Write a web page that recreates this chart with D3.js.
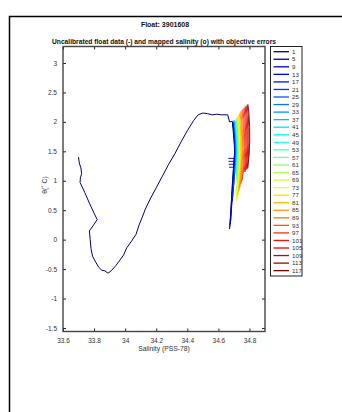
<!DOCTYPE html>
<html><head><meta charset="utf-8">
<script src="https://cdn.jsdelivr.net/npm/d3@7"></script>
<style>
html,body{margin:0;padding:0;background:#fff;overflow:hidden}
svg{display:block;font-family:"Liberation Sans",Arial,sans-serif}
</style></head><body>
<svg id="c" width="342" height="412"></svg>
<script>
const titleText = "Float: 3901608";
const subtitleText = "Uncalibrated float data (-) and mapped salinity (o) with objective errors";
const xLabelText = "Salinity (PSS-78)";
const yLabelText = "θ(˚ C)";
const xTicks = [33.6, 33.8, 34.0, 34.2, 34.4, 34.6, 34.8];
const xTickLabels = ["33.6", "33.8", "34", "34.2", "34.4", "34.6", "34.8"];
const yTicks = [-1.5, -1, -0.5, 0, 0.5, 1, 1.5, 2, 2.5, 3];
const yTickLabels = ["-1.5", "-1", "-0.5", "0", "0.5", "1", "1.5", "2", "2.5", "3"];
const profileNumbers = [1,5,9,13,17,21,25,29,33,37,41,45,49,53,57,61,65,69,73,77,81,85,89,93,97,101,105,109,113,117];

// [salinity, theta] pairs per profile
const prof1 = [[33.700,1.40],[33.705,1.30],[33.715,1.22],[33.720,1.12],[33.712,1.05],[33.710,0.97],[33.740,0.80],[33.770,0.62],[33.800,0.45],[33.820,0.34],[33.800,0.26],[33.770,0.15],[33.775,0.00],[33.780,-0.15],[33.790,-0.28],[33.810,-0.38],[33.830,-0.47],[33.850,-0.52],[33.870,-0.53],[33.890,-0.57],[33.910,-0.53],[33.940,-0.44],[33.960,-0.37],[33.990,-0.26],[34.010,-0.14],[34.040,-0.03],[34.070,0.09],[34.090,0.25],[34.110,0.38],[34.130,0.52],[34.165,0.71],[34.200,0.88],[34.240,1.08],[34.280,1.28],[34.320,1.46],[34.360,1.66],[34.400,1.85],[34.440,2.02],[34.470,2.12],[34.500,2.15],[34.530,2.14],[34.560,2.12],[34.590,2.13],[34.620,2.12],[34.660,2.12],[34.672,2.00],[34.690,2.01],[34.695,1.85],[34.700,1.70],[34.705,1.50],[34.700,1.35],[34.690,0.90],[34.680,0.45],[34.672,0.18]];
const prof5 = [[34.690,1.98],[34.700,1.85],[34.703,1.66],[34.706,1.48],[34.700,1.30],[34.690,0.95],[34.680,0.50],[34.674,0.22]];
const prof9 = [[34.693,2.00],[34.700,1.84],[34.705,1.62],[34.707,1.45],[34.702,1.25],[34.692,0.90],[34.684,0.55],[34.676,0.26]];
const prof13 = [[34.695,1.96],[34.703,1.80],[34.706,1.60],[34.709,1.42],[34.703,1.22],[34.695,0.92],[34.686,0.58],[34.680,0.32]];
const prof17 = [[34.698,1.98],[34.704,1.78],[34.708,1.58],[34.710,1.40],[34.705,1.20],[34.698,0.95],[34.690,0.65]];
const prof21 = [[34.700,2.00],[34.706,1.80],[34.709,1.60],[34.711,1.42],[34.707,1.22],[34.700,1.00],[34.692,0.72]];
const prof25 = [[34.700,2.03],[34.705,1.88],[34.710,1.70],[34.712,1.50],[34.709,1.30],[34.704,1.10],[34.698,0.90]];
const prof29 = [[34.702,2.00],[34.708,1.85],[34.712,1.68],[34.714,1.50],[34.711,1.32],[34.706,1.12]];
const prof33 = [[34.703,1.98],[34.709,1.82],[34.713,1.65],[34.716,1.48],[34.712,1.30],[34.708,1.15]];
const prof37 = [[34.706,2.02],[34.711,1.85],[34.716,1.66],[34.718,1.50],[34.714,1.35]];
const prof41 = [[34.708,1.95],[34.713,1.80],[34.718,1.62],[34.720,1.48],[34.716,1.30]];
const prof45 = [[34.710,2.00],[34.716,1.82],[34.720,1.64],[34.722,1.48],[34.718,1.32],[34.712,1.15]];
const prof49 = [[34.712,2.02],[34.718,1.84],[34.722,1.66],[34.725,1.48],[34.721,1.30],[34.715,1.10]];
const prof53 = [[34.715,2.05],[34.720,1.86],[34.725,1.66],[34.727,1.45],[34.723,1.25],[34.716,1.02]];
const prof57 = [[34.718,2.06],[34.723,1.88],[34.728,1.66],[34.730,1.45],[34.726,1.22],[34.719,0.98]];
const prof61 = [[34.720,2.05],[34.726,1.88],[34.730,1.68],[34.732,1.46],[34.728,1.22],[34.720,0.95],[34.712,0.80]];
const prof65 = [[34.722,2.08],[34.728,1.90],[34.732,1.70],[34.735,1.48],[34.731,1.22],[34.723,0.95],[34.714,0.75]];
const prof69 = [[34.724,2.10],[34.730,1.92],[34.735,1.72],[34.737,1.48],[34.733,1.22],[34.725,0.92],[34.715,0.70]];
const prof73 = [[34.727,2.10],[34.733,1.92],[34.738,1.70],[34.740,1.46],[34.736,1.20],[34.727,0.90],[34.716,0.66]];
const prof77 = [[34.730,2.12],[34.736,1.94],[34.741,1.72],[34.743,1.48],[34.739,1.22],[34.730,0.92],[34.720,0.68]];
const prof81 = [[34.735,2.14],[34.741,1.95],[34.745,1.72],[34.747,1.48],[34.743,1.22],[34.735,0.95],[34.726,0.75]];
const prof85 = [[34.740,2.16],[34.746,1.98],[34.750,1.75],[34.752,1.50],[34.748,1.25],[34.740,1.00],[34.732,0.82]];
const prof89 = [[34.745,2.18],[34.751,2.00],[34.755,1.78],[34.757,1.52],[34.753,1.28],[34.746,1.05],[34.738,0.88]];
const prof93 = [[34.752,2.20],[34.758,2.02],[34.762,1.80],[34.764,1.55],[34.760,1.30],[34.753,1.08],[34.746,0.95]];
const prof97 = [[34.758,2.22],[34.764,2.04],[34.768,1.82],[34.770,1.56],[34.766,1.32],[34.759,1.12],[34.752,1.00]];
const prof101 = [[34.765,2.24],[34.771,2.06],[34.775,1.84],[34.777,1.58],[34.773,1.35],[34.766,1.15]];
const prof105 = [[34.772,2.26],[34.778,2.08],[34.782,1.86],[34.784,1.60],[34.780,1.38],[34.772,1.15]];
const prof109 = [[34.778,2.27],[34.785,2.10],[34.789,1.88],[34.790,1.62],[34.786,1.40],[34.778,1.18]];
const prof113 = [[34.785,2.29],[34.792,2.12],[34.796,1.90],[34.797,1.65],[34.793,1.42],[34.785,1.20]];
const prof117 = [[34.790,2.30],[34.797,2.14],[34.801,1.92],[34.802,1.68],[34.798,1.45],[34.790,1.22]];
const profiles = [prof1,prof5,prof9,prof13,prof17,prof21,prof25,prof29,prof33,prof37,prof41,prof45,prof49,prof53,prof57,prof61,prof65,prof69,prof73,prof77,prof81,prof85,prof89,prof93,prof97,prof101,prof105,prof109,prof113,prof117];

// objective error bars (horizontal) for mapped salinity
const errTheta = [1.38, 1.33, 1.28, 1.23];
const errSalLo = [34.664, 34.665, 34.666, 34.668];
const errSalHi = [34.704, 34.703, 34.702, 34.700];

// ---- drawing ----
function jet(t){
  const c = v => Math.max(0, Math.min(1, v));
  const r = c(1.5 - Math.abs(4*t - 3)), g = c(1.5 - Math.abs(4*t - 2)), b = c(1.5 - Math.abs(4*t - 1));
  return d3.rgb(r*255, g*255, b*255).formatHex();
}
const color = d3.scaleOrdinal().domain(profileNumbers).range(profileNumbers.map((d,i)=>jet(i/(profileNumbers.length-1))));

const svg = d3.select("#c");
const L = 63, R = 265, T = 46.5, B = 331.5;
const x = d3.scaleLinear().domain([33.6, 34.9]).range([L, R]);
const y = d3.scaleLinear().domain([-1.56, 3.28]).range([B, T]);

// outer frame
svg.append("rect").attr("x",9.5).attr("y",16.5).attr("width",400).attr("height",500)
  .attr("fill","none").attr("stroke","#000").attr("stroke-width",1.5);

// titles
svg.append("text").attr("x",165).attr("y",26.5).attr("text-anchor","middle")
  .attr("font-size",7).attr("font-weight","bold").attr("fill","#111").text(titleText);
const st = svg.append("text").attr("x",164).attr("y",44).attr("text-anchor","middle")
  .attr("font-size",6.6).attr("font-weight","bold").attr("fill","#111").text(subtitleText);
st.attr("textLength",224).attr("lengthAdjust","spacingAndGlyphs");

// clip for plot
svg.append("clipPath").attr("id","clip").append("rect").attr("x",L).attr("y",T).attr("width",R-L).attr("height",B-T);
const plot = svg.append("g").attr("clip-path","url(#clip)");

const line = d3.line().x(d=>x(d[0])).y(d=>y(d[1]));
profiles.forEach((p,i)=>{
  plot.append("path").datum(p).attr("d",line).attr("fill","none")
    .attr("stroke",color(profileNumbers[i])).attr("stroke-width",i===0?1:0.9)
    .attr("stroke-linejoin","round");
});
errTheta.forEach((t,i)=>{
  plot.append("line").attr("x1",x(errSalLo[i])).attr("x2",x(errSalHi[i]))
    .attr("y1",y(t)).attr("y2",y(t)).attr("stroke",color(profileNumbers[1])).attr("stroke-width",0.9);
});

// axes (MATLAB style: inward ticks, box)
const tickLen = -3;
const axB = d3.axisBottom(x).tickValues(xTicks).tickFormat((d,i)=>xTickLabels[i]).tickSizeInner(tickLen).tickSizeOuter(0).tickPadding(7);
const axT = d3.axisTop(x).tickValues(xTicks).tickFormat("").tickSizeInner(tickLen).tickSizeOuter(0);
const axL = d3.axisLeft(y).tickValues(yTicks).tickFormat((d,i)=>yTickLabels[i]).tickSizeInner(tickLen).tickSizeOuter(0).tickPadding(6);
const axR = d3.axisRight(y).tickValues(yTicks).tickFormat("").tickSizeInner(tickLen).tickSizeOuter(0);
function style(g){
  g.select(".domain").remove();
  g.selectAll(".tick line").attr("stroke","#222").attr("stroke-width",1);
  g.selectAll("text").attr("font-size",6.5).attr("fill","#333").attr("font-family","'Liberation Sans',Arial,sans-serif");
}
svg.append("g").attr("transform",`translate(0,${B})`).call(axB).call(style);
svg.append("g").attr("transform",`translate(0,${T})`).call(axT).call(style);
svg.append("g").attr("transform",`translate(${L},0)`).call(axL).call(style);
svg.append("g").attr("transform",`translate(${R},0)`).call(axR).call(style);
svg.append("rect").attr("x",L).attr("y",T).attr("width",R-L).attr("height",B-T)
  .attr("fill","none").attr("stroke","#444").attr("stroke-width",1.4);

// axis labels
svg.append("text").attr("x",164).attr("y",350.5).attr("text-anchor","middle")
  .attr("font-size",6.8).attr("fill","#333").text(xLabelText);
svg.append("text").attr("transform","translate(47,185) rotate(-90)").attr("text-anchor","middle")
  .attr("font-size",6.8).attr("fill","#333").text(yLabelText);

// legend
const lg = svg.append("g");
const lgX = 270.5, lgY = 46.5, lgW = 31.5, lgH = 229.5, step = 7.55, first = 51.7;
lg.append("rect").attr("x",lgX).attr("y",lgY).attr("width",lgW).attr("height",lgH)
  .attr("fill","#fff").attr("stroke","#222").attr("stroke-width",1);
profileNumbers.forEach((n,i)=>{
  const yy = first + i*step;
  lg.append("line").attr("x1",273.5).attr("x2",289).attr("y1",yy).attr("y2",yy)
    .attr("stroke",color(n)).attr("stroke-width",1.3);
  lg.append("text").attr("x",292).attr("y",yy+2.2).attr("font-size",6.2).attr("fill","#333").text(n);
});
</script></body></html>
